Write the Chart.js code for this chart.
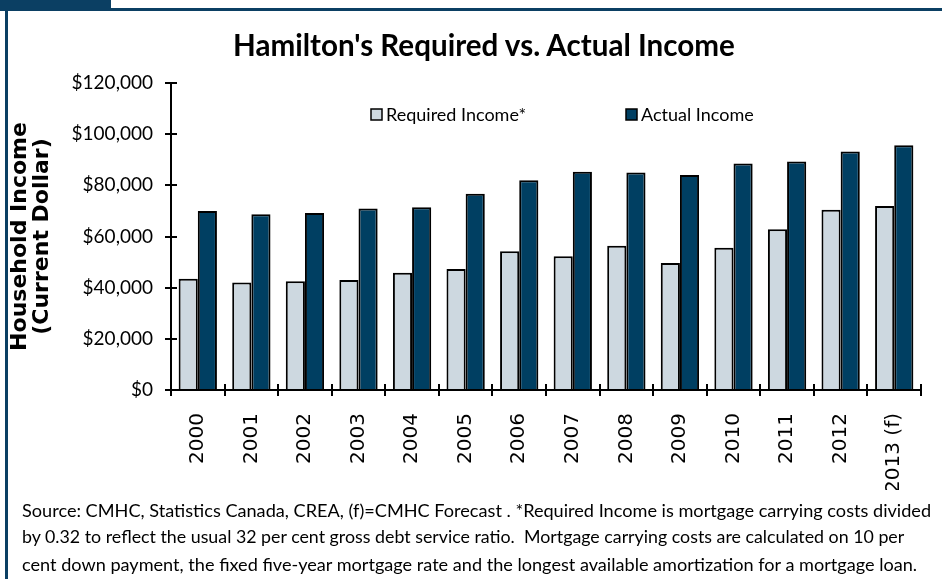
<!DOCTYPE html>
<html>
<head>
<meta charset="utf-8">
<script src="https://cdn.jsdelivr.net/npm/chart.js@4.4.0/dist/chart.umd.min.js"></script>
<style>
html,body{margin:0;padding:0;width:942px;height:579px;overflow:hidden;background:#fff;}
#wrap{position:relative;width:942px;height:579px;}
#c{position:absolute;left:0;top:0;}
.tab{position:absolute;left:0;top:0;width:111px;height:9px;background:#0b3f63;}
.topline{position:absolute;left:0;top:8px;width:942px;height:3px;background:#0b3f63;}
.leftline{position:absolute;left:5px;top:8px;width:3px;height:571px;background:#0b3f63;}
#title{position:absolute;left:233px;top:30px;font-family:Lato;font-weight:bold;font-size:30px;line-height:1;white-space:nowrap;color:#000;}
.note{position:absolute;left:22px;font-family:Lato;font-size:19px;line-height:1;white-space:pre;color:#000;}
</style>
</head>
<body>
<div id="wrap">
  <canvas id="c" width="942" height="579"></canvas>
  <div class="tab"></div>
  <div class="topline"></div>
  <div class="leftline"></div>
  <div id="title" data-w="502">Hamilton's Required vs. Actual Income</div>
  <div class="note" style="top:501px" data-w="910">Source: CMHC, Statistics Canada, CREA, (f)=CMHC Forecast . *Required Income is mortgage carrying costs divided</div>
  <div class="note" style="top:528px" data-w="883">by 0.32 to reflect the usual 32 per cent gross debt service ratio.  Mortgage carrying costs are calculated on 10 per</div>
  <div class="note" style="top:555px" data-w="896">cent down payment, the fixed five-year mortgage rate and the longest available amortization for a mortgage loan.</div>
</div>
<script>
const categories = ['2000','2001','2002','2003','2004','2005','2006','2007','2008','2009','2010','2011','2012','2013 (f)'];
const requiredIncome = [43500, 42000, 42500, 43000, 45800, 47300, 54200, 52300, 56400, 49600, 55600, 62800, 70500, 71900];
const actualIncome   = [70000, 68700, 69200, 70900, 71400, 76700, 82000, 85300, 85000, 84000, 88500, 89300, 93200, 95700];
const yTickValues = [0, 20000, 40000, 60000, 80000, 100000, 120000];
const yTickLabels = ['$0', '$20,000', '$40,000', '$60,000', '$80,000', '$100,000', '$120,000'];
const seriesNames = ['Required Income*', 'Actual Income'];
const seriesColors = ['#cdd8e0', '#003f62'];

function fitWidths() {
  document.querySelectorAll('[data-w]').forEach(el => {
    const target = parseFloat(el.dataset.w);
    const base = parseFloat(getComputedStyle(el).fontSize);
    const w = el.getBoundingClientRect().width;
    if (w > 0) el.style.fontSize = (base * target / w).toFixed(2) + 'px';
  });
}

const crossTicks = {
  id: 'crossTicks',
  afterDatasetsDraw(chart) {
    const {ctx, chartArea, scales} = chart;
    const x = scales.x, y = scales.y;
    ctx.save();
    ctx.strokeStyle = '#000';
    ctx.lineWidth = 2;
    y.ticks.forEach((t, i) => {
      const py = Math.round(y.getPixelForTick(i));
      ctx.beginPath();
      ctx.moveTo(chartArea.left, py);
      ctx.lineTo(chartArea.left + 6, py);
      ctx.stroke();
    });
    const n = x.ticks.length;
    for (let i = 0; i <= n; i++) {
      const px = Math.round(x.left + i * x.width / n);
      ctx.beginPath();
      ctx.moveTo(px, chartArea.bottom);
      ctx.lineTo(px, chartArea.bottom - 6);
      ctx.stroke();
    }
    ctx.restore();
  }
};

const innerLegend = {
  id: 'innerLegend',
  afterDraw(chart) {
    const {ctx, chartArea} = chart;
    const offsets = [200, 455];
    const cy = 115;
    ctx.save();
    ctx.font = '18px Lato';
    ctx.textBaseline = 'middle';
    ctx.textAlign = 'left';
    chart.data.datasets.forEach((ds, i) => {
      const bx = chartArea.left + offsets[i];
      ctx.fillStyle = ds.backgroundColor;
      ctx.fillRect(bx, cy - 6, 11, 11);
      ctx.strokeStyle = '#000';
      ctx.lineWidth = 1.5;
      ctx.strokeRect(bx, cy - 6, 11, 11);
      ctx.fillStyle = '#000';
      ctx.fillText(ds.label, bx + 15, cy);
    });
    ctx.restore();
  }
};

function build() {
  fitWidths();
  new Chart(document.getElementById('c'), {
    type: 'bar',
    data: {
      labels: categories,
      datasets: [
        { label: seriesNames[0], data: requiredIncome, backgroundColor: seriesColors[0], borderColor: '#000', borderWidth: 2 },
        { label: seriesNames[1], data: actualIncome, backgroundColor: seriesColors[1], borderColor: '#000', borderWidth: 2 }
      ]
    },
    options: {
      responsive: false,
      animation: false,
      datasets: { bar: { categoryPercentage: 0.715, barPercentage: 1.0 } },
      layout: { padding: { left: 8, top: 83, right: 21, bottom: 89 } },
      plugins: { legend: { display: false }, title: { display: false }, tooltip: { enabled: false } },
      scales: {
        x: {
          grid: { display: true, drawOnChartArea: false, drawTicks: true, tickLength: 6, color: '#000', lineWidth: 2, offset: true },
          border: { display: true, color: '#000', width: 2 },
          ticks: { color: '#000', font: { family: 'DejaVu Sans', size: 20 }, minRotation: 90, maxRotation: 90, autoSkip: false, padding: 17 },
          afterFit(scale) { scale.height = 100; }
        },
        y: {
          min: 0, max: 120000,
          afterBuildTicks(scale) { scale.ticks = yTickValues.map(v => ({ value: v })); },
          grid: { display: true, drawOnChartArea: false, drawTicks: true, tickLength: 6, color: '#000', lineWidth: 2 },
          border: { display: true, color: '#000', width: 2 },
          ticks: {
            color: '#000', font: { family: 'Lato', size: 19 }, padding: 12,
            callback(value) { const i = yTickValues.indexOf(value); return i >= 0 ? yTickLabels[i] : ''; }
          },
          title: {
            display: true, text: ['Household Income', '(Current Dollar)'], color: '#000',
            font: { family: 'DejaVu Sans', weight: 'bold', size: 22, lineHeight: 1.0 },
            padding: { top: 1, bottom: 0 }
          },
          afterFit(scale) { scale.width = 163; }
        }
      }
    },
    plugins: [crossTicks, innerLegend]
  });
}
if (document.fonts && document.fonts.ready) {
  document.fonts.ready.then(build);
} else { build(); }
</script>
</body>
</html>
